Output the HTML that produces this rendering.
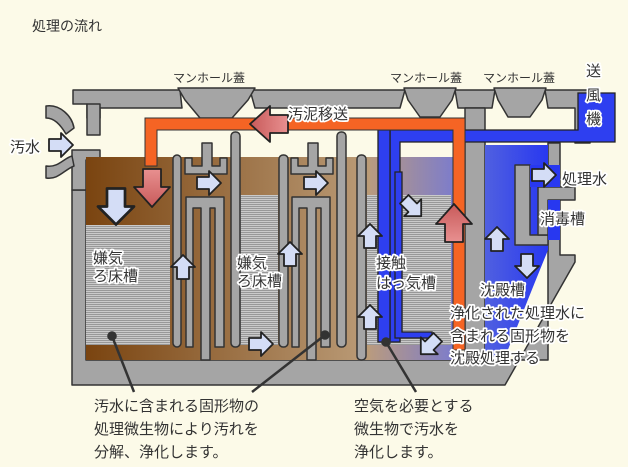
<!DOCTYPE html>
<html><head><meta charset="utf-8"><style>
html,body{margin:0;padding:0;background:#fcfae8}
svg{display:block}
text{font-family:"Liberation Sans","Noto Sans CJK JP",sans-serif;fill:#333}
.h{paint-order:stroke;stroke:#fff;stroke-width:3.5px;stroke-linejoin:round}
</style></head><body>
<svg width="628" height="467" viewBox="0 0 628 467" xmlns="http://www.w3.org/2000/svg">
<defs>
<linearGradient id="br" x1="0" x2="1"><stop offset="0" stop-color="#7a4410"/><stop offset="1" stop-color="#bb9c78"/></linearGradient>
<linearGradient id="pu" x1="0" x2="1"><stop offset="0" stop-color="#b89a80"/><stop offset="1" stop-color="#7c7ccc"/></linearGradient>
<linearGradient id="bl" x1="0" x2="1"><stop offset="0" stop-color="#5060e0"/><stop offset="1" stop-color="#2838f0"/></linearGradient>
<linearGradient id="rd" x1="0" x2="1"><stop offset="0" stop-color="#e89090"/><stop offset="1" stop-color="#c85a5a"/></linearGradient>
<pattern id="mesh" width="4" height="4" patternUnits="userSpaceOnUse"><rect width="4" height="4" fill="#eeeeee"/><path d="M0,0.5H4M0,2.5H4M1,0V4M3,0V4" stroke="#888" stroke-width="0.7"/></pattern>
<path id="ar" d="M-11,-6 L1,-6 L1,-12 L13,0 L1,12 L1,6 L-11,6 Z" fill="#d4ddf6" stroke="#222" stroke-width="1.8" stroke-linejoin="round"/>
<path id="ra" d="M-18,-9 L0,-9 L0,-18 L20,0 L0,18 L0,9 L-18,9 Z" fill="url(#rd)" stroke="#222" stroke-width="1.8" stroke-linejoin="round"/>
</defs>

<text x="32" y="31" font-size="14">処理の流れ</text>

<g fill="#a5a5a5" stroke="#333" stroke-width="1.5" stroke-linejoin="round">
<path d="M72,190 L86,190 L86,360 L548,360 L548,143 L560,143 L560,255 L575,255 L575,262 L505,385 L72,385 Z"/>
<path d="M73,90 L180,90 L182,108 L100,108 L100,118 L87,118 L87,104 L73,104 Z"/>
<path d="M87,104 L100,104 L100,135 L87,135 Z"/>
<path d="M250,90 L405,90 L400,108 L255,108 Z"/>
<path d="M455,90 L495,90 L492,108 L458,108 Z"/>
<path d="M545,90 L590,90 L590,143 L575,143 L575,108 L548,108 Z"/>
<path d="M178,88 L255,88 L248,100 L232,118 L200,118 L185,100 Z"/>
<path d="M404,88 L456,88 L452,100 L440,117 L420,117 L408,100 Z"/>
<path d="M494,88 L546,88 L542,100 L530,117 L508,117 L498,100 Z"/>
<path d="M465,108 L485,108 L485,357 L465,357 Z"/>
<path d="M72,150 L100,150 L100,160 L86,160 L86,190 L72,190 Z"/>
<path d="M46,106 C60,104 72,116 74,128 L66,134 C60,124 54,118 46,118 Z"/>
<path d="M46,166 C58,168 64,158 72,156 L74,166 C64,170 58,180 46,178 Z"/>
</g>

<rect x="86" y="157" width="285" height="203" fill="url(#br)"/>
<rect x="370" y="157" width="85" height="203" fill="url(#pu)"/>
<path d="M485,145 L548,145 L548,250 L535,282 L505,357 L485,357 Z" fill="url(#bl)"/>
<rect x="86" y="225" width="84" height="120" fill="url(#mesh)"/>
<rect x="240" y="195" width="38" height="150" fill="url(#mesh)"/>
<rect x="367" y="195" width="84" height="150" fill="url(#mesh)"/>

<g fill="#a5a5a5" stroke="#333" stroke-width="1.5" stroke-linejoin="round">
<path d="M515,165 L530,165 L530,235 L548,235 L548,245 L515,245 Z"/>
<path d="M538,187 L575,187 L575,200 L548,200 L548,235 L538,235 Z"/>
</g>
<rect x="530" y="165" width="30" height="22" fill="#2838f0"/>
<rect x="548" y="200" width="12" height="40" fill="#2838f0"/>

<g fill="#a5a5a5" stroke="#333" stroke-width="1.5" stroke-linejoin="round">
<rect x="173" y="155" width="8" height="192" rx="4"/>
<rect x="231" y="132" width="9" height="215" rx="4"/>
<rect x="279" y="155" width="9" height="192" rx="4"/>
<rect x="337" y="132" width="9" height="215" rx="4"/>
<rect x="357" y="155" width="9" height="205" rx="4"/>
<g id="pp">
<path d="M185,158 L192,158 L192,166 L202,166 L202,143 L212,143 L212,166 L220,166 L220,158 L227,158 L227,174 L185,174 Z"/>
<path d="M186,197 L224,197 L224,347 L215,347 L215,208 L210,208 L210,360 L201,360 L201,208 L193,208 L193,347 L186,347 Z"/>
</g>
<use href="#pp" transform="translate(106,0)"/>
</g>

<g fill="#2e3ff0" stroke="#222" stroke-width="1.3">
<path d="M578,93 L615,93 L615,142 L400,142 L400,342 L390,342 L390,130 L578,130 Z"/>
<path d="M378,130 L390,130 L390,342 L378,342 Z"/>
<path d="M395,172 L402,172 L402,332 L432,332 L432,338 L395,338 Z"/>
</g>
<path d="M145,166 L145,118 L465,118 L465,350 L453,350 L453,130 L157,130 L157,166 Z" fill="#f56424" stroke="#333" stroke-width="1"/>

<use href="#ar" transform="translate(60,145)"/>
<use href="#ar" transform="translate(116,205) rotate(90) scale(1.5)"/>
<use href="#ar" transform="translate(208,183)"/>
<use href="#ar" transform="translate(183,268) rotate(-90)"/>
<use href="#ar" transform="translate(260,344)"/>
<use href="#ar" transform="translate(315,183)"/>
<use href="#ar" transform="translate(290,255) rotate(-90)"/>
<use href="#ar" transform="translate(370,237) rotate(-90)"/>
<use href="#ar" transform="translate(370,318) rotate(-90)"/>
<use href="#ar" transform="translate(412,207) rotate(45)"/>
<use href="#ar" transform="translate(430,345) rotate(135)"/>
<use href="#ar" transform="translate(497,240) rotate(-90)"/>
<use href="#ar" transform="translate(527,265) rotate(90)"/>
<use href="#ar" transform="translate(543,175)"/>
<use href="#ra" transform="translate(152,187) rotate(90)"/>
<use href="#ra" transform="translate(270,124) rotate(180)"/>
<use href="#ra" transform="translate(454,224) rotate(-90)"/>

<g stroke="#333" stroke-width="2.5" fill="#333">
<line x1="112" y1="336" x2="134" y2="392"/><circle cx="112" cy="336" r="3.5"/>
<line x1="325" y1="335" x2="252" y2="392"/><circle cx="325" cy="335" r="3.5"/>
<line x1="386" y1="342" x2="416" y2="392"/><circle cx="386" cy="342" r="3.5"/>
</g>

<g font-size="12">
<text x="173" y="82">マンホール蓋</text>
<text x="390" y="82">マンホール蓋</text>
<text x="483" y="82">マンホール蓋</text>
</g>
<g font-size="15">
<text x="586" y="76" class="h">送</text>
<text x="586" y="100" class="h">風</text>
<text x="586" y="124" class="h">機</text>
<text x="288" y="119" class="h">汚泥移送</text>
<text x="10" y="152" class="h">汚水</text>
<text x="562" y="184" class="h">処理水</text>
<text x="540" y="224" class="h">消毒槽</text>
<text x="93" y="263" class="h">嫌気</text>
<text x="93" y="281" class="h">ろ床槽</text>
<text x="237" y="268" class="h">嫌気</text>
<text x="237" y="286" class="h">ろ床槽</text>
<text x="376" y="268" class="h">接触</text>
<text x="376" y="288" class="h">はっ気槽</text>
<text x="480" y="295" class="h">沈殿槽</text>
<text x="450" y="318" class="h">浄化された処理水に</text>
<text x="450" y="341" class="h">含まれる固形物を</text>
<text x="450" y="363" class="h">沈殿処理する</text>
<text x="94" y="411">汚水に含まれる固形物の</text>
<text x="94" y="434">処理微生物により汚れを</text>
<text x="94" y="457">分解、浄化します。</text>
<text x="354" y="411">空気を必要とする</text>
<text x="354" y="434">微生物で汚水を</text>
<text x="354" y="457">浄化します。</text>
</g>
</svg>
</body></html>
